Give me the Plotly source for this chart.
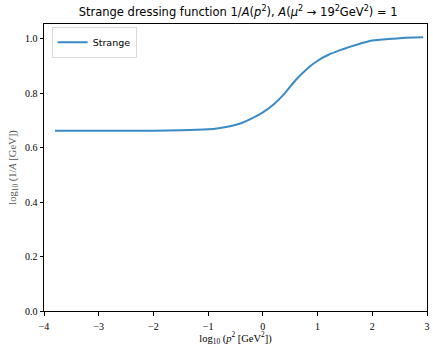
import plotly.graph_objects as go

# log10(p^2 [GeV^2]) and strange-quark dressing function 1/A(p^2)
log_p2 = [-3.8, -3.0, -2.0, -1.5, -1.2, -0.9, -0.6, -0.4, -0.2, 0.0, 0.2, 0.4,
          0.6, 0.8, 1.0, 1.2, 1.4, 1.6, 1.8, 2.0, 2.3, 2.6, 2.93]
inv_A = [0.663, 0.663, 0.663, 0.664, 0.666, 0.669, 0.679, 0.690, 0.708, 0.730,
         0.760, 0.800, 0.849, 0.889, 0.920, 0.942, 0.958, 0.972, 0.984, 0.994,
         1.000, 1.004, 1.006]

x_ticks = [-4, -3, -2, -1, 0, 1, 2, 3]
x_tick_text = ["\u22124", "\u22123", "\u22122", "\u22121", "0", "1", "2", "3"]
y_ticks = [0.0, 0.2, 0.4, 0.6, 0.8, 1.0]
y_tick_text = ["0.0", "0.2", "0.4", "0.6", "0.8", "1.0"]

serif = "Liberation Serif, DejaVu Serif, serif"
sans = "DejaVu Sans, sans-serif"

fig = go.Figure()
fig.add_trace(go.Scatter(
    x=log_p2, y=inv_A, mode="lines", name="Strange",
    line=dict(color="#3a8ac6", width=2, shape="spline", smoothing=0.3),
))

axis_common = dict(
    showline=True, linecolor="black", linewidth=1, mirror=True,
    ticks="outside", ticklen=3.5, tickwidth=1, tickcolor="black",
    showgrid=False, zeroline=False,
    tickfont=dict(family=serif, size=10, color="black"),
)

fig.update_layout(
    width=433, height=346,
    margin=dict(l=44, r=3, t=24, b=33),
    paper_bgcolor="white", plot_bgcolor="white",
    title=dict(
        text="Strange dressing function 1/<i>A</i>(<i>p</i><sup>2</sup>), "
             "<i>A</i>(<i>\u03bc</i><sup>2</sup> \u2192 19<sup>2</sup>GeV<sup>2</sup>) = 1",
        x=0.55, xanchor="center", y=0.965, yanchor="middle",
        font=dict(family=sans, size=11.5, color="black"),
    ),
    xaxis=dict(
        range=[-4, 3], tickvals=x_ticks, ticktext=x_tick_text,
        ticklabelstandoff=2,
        title=dict(text="log<sub>10</sub> (<i>p</i><sup>2</sup> [GeV<sup>2</sup>])",
                   font=dict(family=serif, size=10.5, color="black"), standoff=4),
        **axis_common,
    ),
    yaxis=dict(
        range=[0, 1.055], tickvals=y_ticks, ticktext=y_tick_text,
        title=dict(text="log<sub>10</sub> (1/<i>A</i> [GeV])",
                   font=dict(family=serif, size=10.5, color="#555555"), standoff=6),
        **axis_common,
    ),
    legend=dict(
        x=0.02, y=0.99, xanchor="left", yanchor="top",
        bgcolor="white", bordercolor="#d9d9d9", borderwidth=1,
        font=dict(family=sans, size=9.5, color="black"),
        itemwidth=30, tracegroupgap=0,
    ),
    showlegend=True,
)

fig.write_html("out.html")
